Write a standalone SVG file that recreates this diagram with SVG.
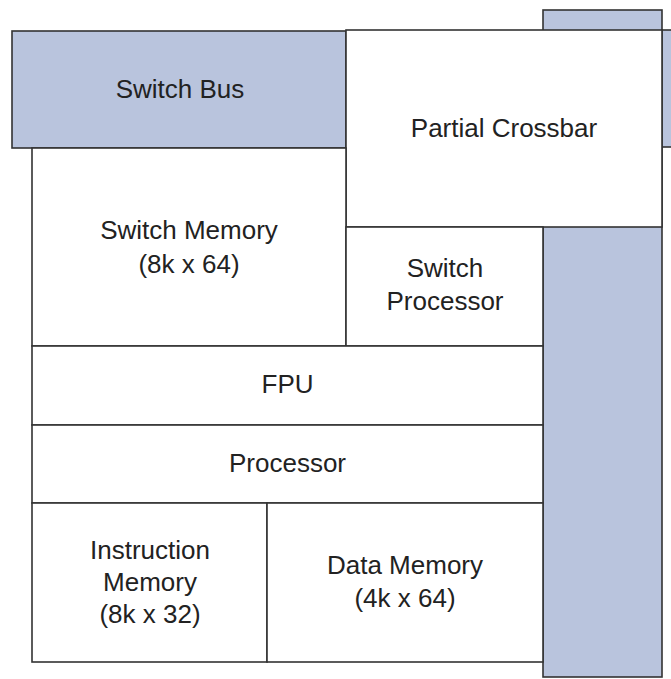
<svg xmlns="http://www.w3.org/2000/svg" width="671" height="679" viewBox="0 0 671 679">
<style>
.bus{fill:#b9c4dd;stroke:#333;stroke-width:1.6}
.blk{fill:#fff;stroke:#333;stroke-width:1.6}
text{font-family:"Liberation Sans",Arial,sans-serif;font-size:26px;fill:#222;text-anchor:middle}
</style>
<rect width="671" height="679" fill="#fff"/>
<g id="vertical-bus"><rect class="bus" x="543" y="10" width="119" height="667"/></g>
<g id="right-bus"><rect class="bus" x="662" y="30" width="20" height="117"/></g>
<g id="switch-bus"><rect class="bus" x="12" y="31" width="334" height="117"/><text x="180" y="98">Switch Bus</text></g>
<g id="partial-crossbar"><rect class="blk" x="346" y="30" width="316" height="197"/><text x="504" y="137">Partial Crossbar</text></g>
<g id="switch-memory"><rect class="blk" x="32" y="148" width="314" height="198"/><text x="189" y="239">Switch Memory</text><text x="189" y="273">(8k x 64)</text></g>
<g id="switch-processor"><rect class="blk" x="346" y="227" width="197" height="119"/><text x="445" y="277">Switch</text><text x="445" y="310">Processor</text></g>
<g id="fpu"><rect class="blk" x="32" y="346" width="511" height="79"/><text x="287.5" y="393">FPU</text></g>
<g id="processor"><rect class="blk" x="32" y="425" width="511" height="78"/><text x="287.5" y="472">Processor</text></g>
<g id="instruction-memory"><rect class="blk" x="32" y="503" width="235" height="159"/><text x="150" y="559">Instruction</text><text x="150" y="591">Memory</text><text x="150" y="623">(8k x 32)</text></g>
<g id="data-memory"><rect class="blk" x="267" y="503" width="276" height="159"/><text x="405" y="574">Data Memory</text><text x="405" y="607">(4k x 64)</text></g>
<g id="connectors"></g>
</svg>
